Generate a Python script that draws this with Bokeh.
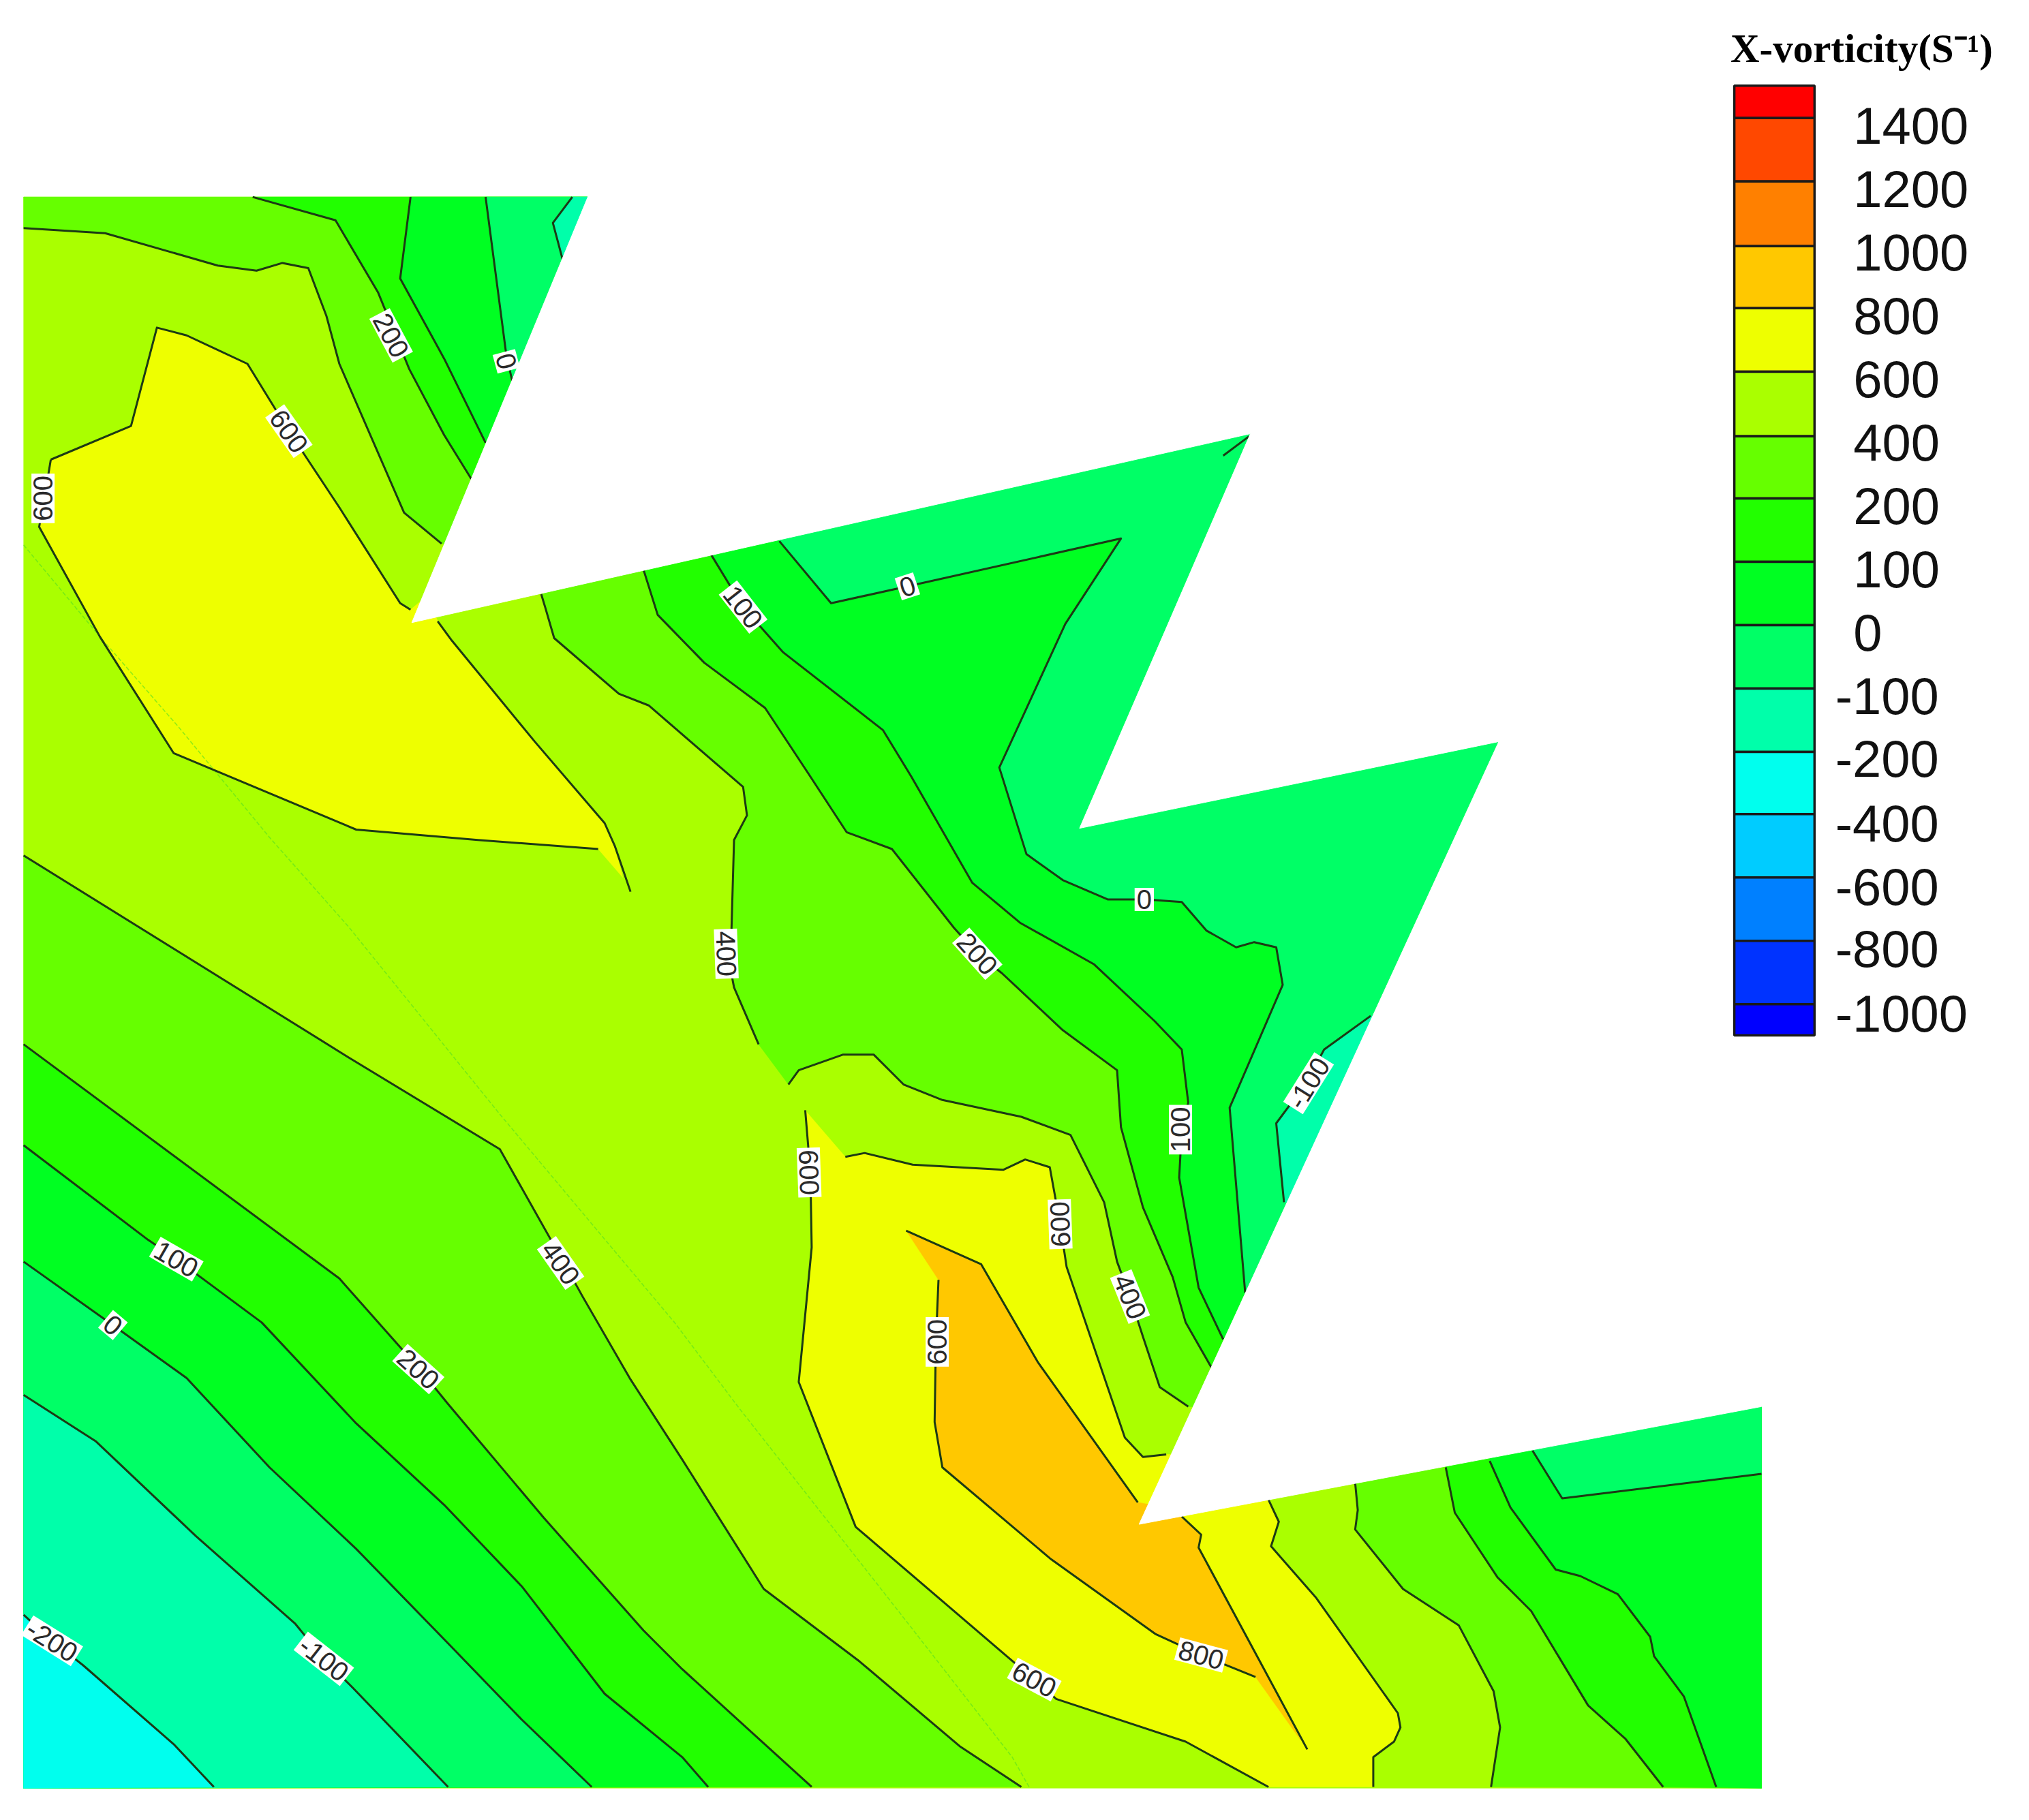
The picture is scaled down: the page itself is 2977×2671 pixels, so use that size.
from bokeh.plotting import figure
from bokeh.models import Range1d
from bokeh.core.properties import value
from bokeh.embed import file_html
from bokeh.resources import INLINE

# ---------- data: all coordinates are in the 1568-wide picture frame ----------
SCALE = 2977 / 1568
DOMAIN_X = [18, 1361]
DOMAIN_Y = [152, 1382]

# domain outline: the part that is cut away (saw-tooth)
NOTCH = [(454,150),(454,152),(318,481),(966,335),(834,640),(1158,573),(880,1178),(1361,1087),(1365,1086),(1365,148)]

# contour lines
C400_TOP = [(18,176),(81,180),(168,205),(198,209),(218,203),(238,207),(252,244),(262,281),(312,396),(341,420)]
C200_TOP = [(195,152),(259,170),(292,226),(316,285),(343,336),(364,370)]
C100_TOP = [(317,152),(309,215),(343,277),(375,342)]
C0_TOP = [(375,152),(391,274),(396,296)]
CM100_TOP = [(442,152),(427,172),(435,202)]

C600_A1 = [(39,355),(101,329),(121,253),(144,259),(191,281),(223,333),(262,392),(309,466),(317,471)]
C600_A2 = [(338,480),(349,495),(413,573),(467,636),(475,654),(487,689)]
C600_A3 = [(462,656),(369,649),(275,641),(134,582),(77,492),(30,407),(34,385),(39,355)]

C400_MID = [(418,459),(421,469),(428,493),(478,536),(501,545),(574,608),(577,630),(567,649),(565,719),(562,737),(567,763),(586,807)]
C400_MID_FADE = [(586,807),(609,838)]
C400_MID2 = [(609,838),(617,827),(651,815),(675,815),(698,838),(728,850),(789,863),(827,877),(853,929),(863,975),(873,1002),(883,1033),(896,1072),(918,1087)]
C200_MID = [(497,440),(508,475),(544,512),(591,547),(624,597),(654,643),(689,656),(737,717),(755,737),(774,752),(821,796),(863,827),(866,871),(883,933),(906,987),(916,1022),(936,1057)]
C100_MID = [(549,428),(574,469),(605,504),(682,564),(704,600),(751,682),(788,713),(845,745),(892,789),(913,811),(918,852),(913,873),(911,910),(926,995),(945,1035)]
C0_MID = [(602,418),(642,466),(701,453),(866,416),(823,482),(772,593),(793,660),(821,680),(856,695),(885,695),(913,697),(932,719),(955,732),(969,728),(986,732),(991,761),(950,856),(962,999)]
C0_TIP = [(965,337),(945,352)]
CM100_MID = [(1059,785),(1023,811),(1009,837),(986,868),(992,929)]

C400_LOW = [(18,661),(269,817),(386,888),(435,975),(450,1002),(487,1066),(527,1128),(590,1228),(664,1284),(742,1350),(789,1381)]
C200_LOW = [(18,807),(262,988),(324,1058),(346,1085),(420,1173),(497,1260),(527,1290),(627,1381)]
C100_LOW = [(18,885),(114,958),(136,973),(202,1022),(275,1100),(343,1163),(403,1226),(467,1309),(527,1358),(547,1381)]
C0_LOW = [(18,975),(87,1024),(144,1065),(208,1134),(275,1197),(346,1270),(403,1329),(457,1381)]
CM100_LOW = [(18,1078),(74,1114),(151,1187),(228,1255),(250,1282),(272,1304),(346,1381)]
CM200_LOW = [(18,1248),(40,1268),(64,1287),(134,1348),(165,1381)]

C600_B1 = [(622,858),(626,906),(627,964),(617,1068),(661,1180),(779,1281),(799,1298),(816,1313),(916,1346),(980,1381)]
C600_B2 = [(653,894),(668,891),(705,900),(775,904),(792,896),(811,902),(819,946),(824,979),(869,1111),(883,1126),(901,1124)]
C600_B3 = [(980,1159),(988,1176),(982,1195),(1017,1235),(1080,1324),(1082,1335),(1077,1346),(1061,1358),(1061,1381)]

C800_1 = [(700,951),(758,977),(802,1053),(879,1161)]
C800_2 = [(913,1172),(928,1186),(926,1196),(1010,1352)]
C800_3 = [(725,989),(723,1037),(722,1099),(728,1134),(812,1205),(893,1263),(928,1279),(970,1296)]

C400_RIGHT = [(1047,1146),(1049,1167),(1047,1182),(1084,1228),(1127,1256),(1154,1307),(1159,1335),(1152,1381)]
C200_RIGHT = [(1117,1134),(1124,1169),(1157,1219),(1183,1245),(1227,1318),(1256,1344),(1285,1381)]
C100_RIGHT = [(1151,1129),(1167,1165),(1202,1213),(1221,1218),(1250,1232),(1275,1265),(1278,1280),(1301,1311),(1326,1381)]
C0_RIGHT = [(1184,1121),(1207,1158),(1361,1139)]

ARTIFACT = [(18,421),(77,492),(138,562),(208,647),(269,716),(386,861),(521,1022),(570,1087),(701,1254),(782,1358),(795,1381)]

# contour labels: text, x, y, rotation in degrees
LABEL_TEXT = ["200","0","600","600","100","0","0","400","200","-100","100","600","600","600","400","400","200","100","0","-200","-100","600","800"]
LABEL_X = [302,391,223,33,574,701,884,561,755,1011,912,625,819,724,873,433,323,136,87,40,250,799,928]
LABEL_Y = [259,279,333,385,469,453,695,737,737,837,873,906,946,1037,1002,976,1058,973,1024,1268,1282,1298,1279]
LABEL_ANGLE = [-62,-75,-55,90,-52,18,0,-88,-48,58,90,-88,92,90,-68,-55,-42,-30,-40,-32,-38,-28,-15]

# colour levels
COL_600_800 = "#eeff00"
COL_400_600 = "#aaff00"
COL_200_400 = "#66ff00"
COL_100_200 = "#22ff00"
COL_0_100 = "#00ff22"
COL_M100_0 = "#00ff66"
COL_M200_M100 = "#00ffaa"
COL_LOW = "#00ffee"
COL_800_1000 = "#ffc800"
LINE_COL = "#1c3a14"

# colour bar
BAR_LEFT, BAR_RIGHT = 1340, 1402
BAR_EDGES = [66,91,140,190,238,287,337,385,434,483,532,581,629,678,727,776,800]
BAR_COLORS = ["#ff0000","#ff4800","#ff8000","#ffc800","#eeff00","#aaff00","#66ff00","#22ff00","#00ff22",
              "#00ff66","#00ffaa","#00ffee","#00ccff","#0080ff","#0033ff","#0000ff"]
BAR_LABELS = ["1400","1200","1000","800","600","400","200","100","0","-100","-200","-400","-600","-800","-1000"]
BAR_LABEL_Y = [97,146,195,244,293,342,391,440,489,538,586,636,685,733,783]
BAR_TITLE = "X-vorticity(S\u207b\u00b9)"

# ---------- figure ----------
W, H = 2961, 2655
p = figure(width=W, height=H, output_backend="svg", toolbar_location=None,
           x_range=Range1d(0, W / SCALE), y_range=Range1d(H / SCALE, 0),
           min_border=0, outline_line_color=None, background_fill_color="white", border_fill_color="white")
p.axis.visible = False
p.grid.visible = False

def fill(points, color):
    p.patch([q[0] for q in points], [q[1] for q in points], fill_color=color, line_color=color, line_width=0.5)

def contour(points, color=LINE_COL, width=3.0, alpha=1.0, dash="solid"):
    p.line([q[0] for q in points], [q[1] for q in points], line_color=color, line_width=width,
           line_alpha=alpha, line_join="round", line_dash=dash)

# base band
fill([(DOMAIN_X[0],DOMAIN_Y[0]),(DOMAIN_X[1],DOMAIN_Y[0]),(DOMAIN_X[1],DOMAIN_Y[1]),(DOMAIN_X[0],DOMAIN_Y[1])], COL_400_600)

TR = [(1300,700),(1000,300)]
# 200-400
fill([(18,152),(500,152),(500,430)] + C400_TOP[::-1], COL_200_400)
fill([(418,300),(418,440)] + C400_MID + C400_MID_FADE[1:] + C400_MID2 + [(960,1090)] + TR, COL_200_400)
fill(C400_LOW + [(18,1382)], COL_200_400)
fill([(1047,1100)] + C400_RIGHT + [(1361,1382),(1361,1100)], COL_200_400)
# 100-200
fill(C200_TOP + [(500,380),(500,152)], COL_100_200)
fill([(497,300)] + C200_MID + [(1000,1050)] + TR, COL_100_200)
fill(C200_LOW + [(18,1382)], COL_100_200)
fill([(1117,1060)] + C200_RIGHT + [(1361,1382),(1361,1060)], COL_100_200)
# 0-100
fill(C100_TOP + [(500,360),(500,152)], COL_0_100)
fill([(549,300)] + C100_MID + [(1000,1030)] + TR, COL_0_100)
fill(C100_LOW + [(18,1382)], COL_0_100)
fill([(1151,1060)] + C100_RIGHT + [(1361,1382),(1361,1060)], COL_0_100)
# -100-0
fill(C0_TOP + [(500,300),(500,152)], COL_M100_0)
fill([(602,300)] + C0_MID + [(1020,1000)] + TR, COL_M100_0)
fill(C0_LOW + [(18,1382)], COL_M100_0)
fill([(1184,1060)] + C0_RIGHT + [(1361,1060)], COL_M100_0)
# -200--100
fill(CM100_TOP + [(500,202),(500,152)], COL_M200_M100)
fill(CM100_MID + [(1060,929),(1100,785)], COL_M200_M100)
fill(CM100_LOW + [(18,1382)], COL_M200_M100)
# below -200
fill(CM200_LOW + [(18,1382)], COL_LOW)
# 600-800
fill(C600_A1 + [(330,460)] + C600_A2[:-1] + [(481,678)] + C600_A3, COL_600_800)
fill(C600_B2 + [(930,1124),(1000,1130)] + C600_B3 + C600_B1[::-1] + [(653,894)], COL_600_800)
# 800-1000
fill(C800_1 + [(900,1165)] + C800_2[:-1] + [(1005,1345)] + C800_3[::-1], COL_800_1000)

# thin faint mesh artefact
contour(ARTIFACT, color="#55dd22", width=1.6, alpha=0.6, dash="6 3")

for c in [C400_TOP, C200_TOP, C100_TOP, C0_TOP, CM100_TOP, C600_A1, C600_A2, C600_A3, C400_MID, C400_MID2,
          C200_MID, C100_MID, C0_MID, C0_TIP, CM100_MID, C400_LOW, C200_LOW, C100_LOW, C0_LOW, CM100_LOW,
          CM200_LOW, C600_B1, C600_B2, C600_B3, C800_1, C800_2, C800_3, C400_RIGHT, C200_RIGHT, C100_RIGHT, C0_RIGHT]:
    contour(c)

# cut-away part of the domain
p.patch([q[0] for q in NOTCH], [q[1] for q in NOTCH], fill_color="white", line_color="white", line_width=1)

# contour labels
p.text(LABEL_X, LABEL_Y, text=LABEL_TEXT, angle=LABEL_ANGLE, angle_units="deg",
       text_font=value("Liberation Sans"), text_font_size="40px", text_color="#2a2a2a",
       text_align="center", text_baseline="middle",
       background_fill_color="white", padding=3)

# colour bar
p.quad(left=BAR_LEFT, right=BAR_RIGHT, top=BAR_EDGES[:-1], bottom=BAR_EDGES[1:], fill_color=BAR_COLORS,
       line_color="#1a1a1a", line_width=3.5)
bar_x = [1418 if t.startswith("-") else 1432 for t in BAR_LABELS]
p.text(bar_x, BAR_LABEL_Y, text=BAR_LABELS, text_font=value("Liberation Sans"), text_font_size="76px",
       text_color="#111111", text_align="left", text_baseline="middle")
p.text([1337], [37], text=[BAR_TITLE], text_font=value("Liberation Serif"), text_font_size="59px",
       text_font_style="bold", text_color="#000000", text_align="left", text_baseline="alphabetic")

open("out.html", "w").write(file_html(p, INLINE))
